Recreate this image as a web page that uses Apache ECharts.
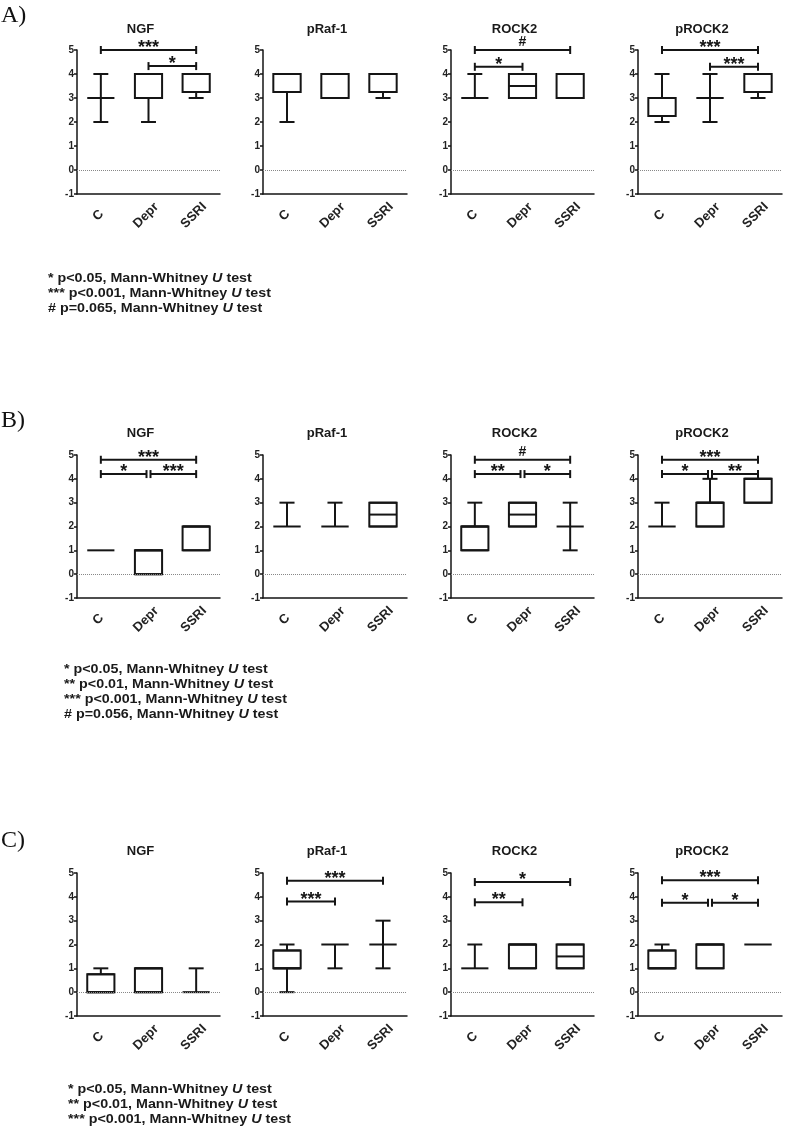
<!DOCTYPE html>
<html><head><meta charset="utf-8">
<script src="https://cdn.jsdelivr.net/npm/echarts@6/dist/echarts.min.js"></script>
<style>html,body{margin:0;padding:0;background:#fff}#c{width:789px;height:1148px}</style>
</head><body><div id="c"></div>
<script>
// ---------- data ----------
const groups = ['C', 'Depr', 'SSRI'];
const markers = ['NGF', 'pRaf-1', 'ROCK2', 'pROCK2'];
const rowLabels = ['A)', 'B)', 'C)'];
const yMin = -1, yMax = 5, yStep = 1;

// box values per group: [min, q1, median, q3, max] for C, Depr, SSRI
const A_NGF    = [[2, 3, 3, 3, 4], [2, 3, 4, 4, 4], [3, 3.25, 4, 4, 4]];
const A_pRaf1  = [[2, 3.25, 4, 4, 4], [3, 3, 4, 4, 4], [3, 3.25, 4, 4, 4]];
const A_ROCK2  = [[3, 3, 3, 3, 4], [3, 3, 3.5, 4, 4], [3, 3, 4, 4, 4]];
const A_pROCK2 = [[2, 2.25, 3, 3, 4], [2, 3, 3, 3, 4], [3, 3.25, 4, 4, 4]];
const B_NGF    = [[1, 1, 1, 1, 1], [0, 0, 1, 1, 1], [1, 1, 2, 2, 2]];
const B_pRaf1  = [[2, 2, 2, 2, 3], [2, 2, 2, 2, 3], [2, 2, 2.5, 3, 3]];
const B_ROCK2  = [[1, 1, 2, 2, 3], [2, 2, 2.5, 3, 3], [1, 2, 2, 2, 3]];
const B_pROCK2 = [[2, 2, 2, 2, 3], [2, 2, 3, 3, 4], [3, 3, 4, 4, 4]];
const C_NGF    = [[0, 0, 0, 0.75, 1], [0, 0, 1, 1, 1], [0, 0, 0, 0, 1]];
const C_pRaf1  = [[0, 1, 1, 1.75, 2], [1, 2, 2, 2, 2], [1, 2, 2, 2, 3]];
const C_ROCK2  = [[1, 1, 1, 1, 2], [1, 1, 2, 2, 2], [1, 1, 1.5, 2, 2]];
const C_pROCK2 = [[1, 1, 1, 1.75, 2], [1, 1, 2, 2, 2], [2, 2, 2, 2, 2]];

// significance brackets: [from, to, height, label]
const A_NGF_sig    = [['C', 'SSRI', 5, '***'], ['Depr', 'SSRI', 4.33, '*']];
const A_pRaf1_sig  = [];
const A_ROCK2_sig  = [['C', 'SSRI', 5, '#'], ['C', 'Depr', 4.3, '*']];
const A_pROCK2_sig = [['C', 'SSRI', 5, '***'], ['Depr', 'SSRI', 4.3, '***']];
const B_NGF_sig    = [['C', 'SSRI', 4.8, '***'], ['C', 'Depr', 4.2, '*'], ['Depr', 'SSRI', 4.2, '***']];
const B_pRaf1_sig  = [];
const B_ROCK2_sig  = [['C', 'SSRI', 4.8, '#'], ['C', 'Depr', 4.2, '**'], ['Depr', 'SSRI', 4.2, '*']];
const B_pROCK2_sig = [['C', 'SSRI', 4.8, '***'], ['C', 'Depr', 4.2, '*'], ['Depr', 'SSRI', 4.2, '**']];
const C_NGF_sig    = [];
const C_pRaf1_sig  = [['C', 'SSRI', 4.67, '***'], ['C', 'Depr', 3.8, '***']];
const C_ROCK2_sig  = [['C', 'SSRI', 4.62, '*'], ['C', 'Depr', 3.77, '**']];
const C_pROCK2_sig = [['C', 'SSRI', 4.7, '***'], ['C', 'Depr', 3.75, '*'], ['Depr', 'SSRI', 3.75, '*']];

const notesA = ['* p<0.05', '*** p<0.001', '# p=0.065'];
const notesB = ['* p<0.05', '** p<0.01', '*** p<0.001', '# p=0.056'];
const notesC = ['* p<0.05', '** p<0.01', '*** p<0.001'];
const testName = 'Mann-Whitney';

// ---------- layout ----------
const rowsBox = [[A_NGF, A_pRaf1, A_ROCK2, A_pROCK2], [B_NGF, B_pRaf1, B_ROCK2, B_pROCK2], [C_NGF, C_pRaf1, C_ROCK2, C_pROCK2]];
const rowsSig = [[A_NGF_sig, A_pRaf1_sig, A_ROCK2_sig, A_pROCK2_sig], [B_NGF_sig, B_pRaf1_sig, B_ROCK2_sig, B_pROCK2_sig], [C_NGF_sig, C_pRaf1_sig, C_ROCK2_sig, C_pROCK2_sig]];
const rowsNotes = [notesA, notesB, notesC];
const gridTop = [50, 455, 873];
const gridH = [144, 143, 143];
const colLeft = [77, 263, 451, 638];
const colW = [143, 144, 143, 144];
const titleY = [29, 433, 851];
const rowLabelY = [17, 422, 842];
const noteX = [48, 64, 68];
const noteY0 = [278, 669, 1089];
const INK = '#151515';
const FONT = 'Arial, "Liberation Sans", Helvetica, sans-serif';

const grids = [], xAxes = [], yAxes = [], series = [], graphics = [];

function boxRender(params, api) {
  const i = api.value(0);
  const v = [api.value(1), api.value(2), api.value(3), api.value(4), api.value(5)];
  const band = api.size([1, 0])[0];
  const bw = band * 0.57, cw = bw * 0.55;
  const p = v.map(val => api.coord([i, val]));
  const cx = p[0][0];
  const y = p.map(q => q[1]);
  const st = { stroke: INK, lineWidth: 2, fill: null };
  const ch = [];
  if (v[3] > v[1]) {
    ch.push({ type: 'rect', shape: { x: cx - bw / 2, y: y[3], width: bw, height: y[1] - y[3] }, style: { fill: '#fff', stroke: INK, lineWidth: 2 } });
  }
  ch.push({ type: 'line', shape: { x1: cx - bw / 2, y1: y[2], x2: cx + bw / 2, y2: y[2] }, style: st });
  if (v[3] > v[1]) {
    ch.push({ type: 'line', shape: { x1: cx - bw / 2, y1: y[1], x2: cx + bw / 2, y2: y[1] }, style: st });
    ch.push({ type: 'line', shape: { x1: cx - bw / 2, y1: y[3], x2: cx + bw / 2, y2: y[3] }, style: st });
  }
  if (v[4] > v[3]) {
    ch.push({ type: 'line', shape: { x1: cx, y1: y[3], x2: cx, y2: y[4] }, style: st });
    ch.push({ type: 'line', shape: { x1: cx - cw / 2, y1: y[4], x2: cx + cw / 2, y2: y[4] }, style: st });
  }
  if (v[0] < v[1]) {
    ch.push({ type: 'line', shape: { x1: cx, y1: y[1], x2: cx, y2: y[0] }, style: st });
    ch.push({ type: 'line', shape: { x1: cx - cw / 2, y1: y[0], x2: cx + cw / 2, y2: y[0] }, style: st });
  }
  return { type: 'group', children: ch };
}

function makeSigRender(sig) {
  return function (params, api) {
    const s = sig[params.dataIndex];
    const i1 = groups.indexOf(s[0]), i2 = groups.indexOf(s[1]);
    const a = api.coord([i1, s[2]]), b = api.coord([i2, s[2]]);
    let x1 = a[0], x2 = b[0];
    const yy = a[1];
    // separate touching brackets at the same height
    sig.forEach((o, k) => {
      if (k === params.dataIndex || o[2] !== s[2]) return;
      if (o[1] === s[0]) x1 += 2;
      if (o[0] === s[1]) x2 -= 2;
    });
    const st = { stroke: INK, lineWidth: 2 };
    const onlyStars = /^\*+$/.test(s[3]);
    return {
      type: 'group', children: [
        { type: 'line', shape: { x1: x1, y1: yy, x2: x2, y2: yy }, style: st },
        { type: 'line', shape: { x1: x1, y1: yy - 4, x2: x1, y2: yy + 4 }, style: st },
        { type: 'line', shape: { x1: x2, y1: yy - 4, x2: x2, y2: yy + 4 }, style: st },
        { type: 'text', x: (x1 + x2) / 2, y: yy - (onlyStars ? 2 : 8),
          style: { text: s[3], textAlign: 'center', textVerticalAlign: 'middle', font: (onlyStars ? 'bold 18px ' : 'bold 14px ') + FONT, fill: INK } }
      ]
    };
  };
}

for (let r = 0; r < 3; r++) {
  graphics.push({ type: 'text', left: 1, top: rowLabelY[r] - 13, style: { text: rowLabels[r], font: '24px "Liberation Serif", "Times New Roman", serif', fill: '#111' } });
  for (let c = 0; c < 4; c++) {
    const gi = r * 4 + c;
    grids.push({ left: colLeft[c], top: gridTop[r], width: colW[c], height: gridH[r] });
    xAxes.push({
      type: 'category', gridIndex: gi, data: groups, boundaryGap: true,
      axisLine: { onZero: false, lineStyle: { color: INK, width: 1.5 } },
      axisTick: { alignWithLabel: true, length: 4, lineStyle: { color: INK, width: 1.5 } },
      axisLabel: { rotate: 45, fontWeight: 'bold', fontSize: 13, fontFamily: FONT, color: '#222', margin: 19,
        align: 'center', verticalAlign: 'middle', padding: [0, 7, 7, 0] }
    });
    yAxes.push({
      type: 'value', gridIndex: gi, min: yMin, max: yMax, interval: yStep,
      axisLine: { show: true, lineStyle: { color: INK, width: 1.5 } },
      axisTick: { show: true, length: 3, lineStyle: { color: INK, width: 1.5 } },
      axisLabel: { fontWeight: 'bold', fontSize: 10, fontFamily: FONT, color: '#222', margin: 3 },
      splitLine: { show: false }
    });
    const box = rowsBox[r][c];
    series.push({
      type: 'custom', xAxisIndex: gi, yAxisIndex: gi, renderItem: boxRender, silent: true,
      encode: { x: 0, y: [1, 2, 3, 4, 5] },
      data: box.map((b, k) => [k].concat(b)),
      markLine: { silent: true, symbol: 'none', label: { show: false },
        lineStyle: { type: 'dotted', color: '#888', width: 1 }, data: [{ yAxis: 0 }] },
      z: 3
    });
    const sig = rowsSig[r][c];
    if (sig.length) {
      series.push({
        type: 'custom', xAxisIndex: gi, yAxisIndex: gi, renderItem: makeSigRender(sig), silent: true,
        encode: { x: 0, y: 2 },
        data: sig.map(s => [groups.indexOf(s[0]), groups.indexOf(s[1]), s[2]]),
        z: 4
      });
    }
    graphics.push({ type: 'text', x: colLeft[c] + colW[c] / 2 - 8, y: titleY[r],
      style: { text: markers[c], font: 'bold 13px ' + FONT, fill: '#1a1a1a', textAlign: 'center', textVerticalAlign: 'middle' } });
  }
  rowsNotes[r].forEach((n, k) => {
    graphics.push({ type: 'text', x: noteX[r], y: noteY0[r] + k * 15, scaleX: 1.1,
      style: { text: n + ', ' + testName + ' {u|U} test', font: 'bold 13px ' + FONT, fill: '#1a1a1a', textVerticalAlign: 'middle',
        rich: { u: { fontStyle: 'italic', fontWeight: 'bold', fontSize: 13, fontFamily: FONT, fill: '#1a1a1a' } } } });
  });
}

const chart = echarts.init(document.getElementById('c'), null, { renderer: 'canvas' });
chart.setOption({ animation: false, backgroundColor: '#fff', grid: grids, xAxis: xAxes, yAxis: yAxes, series: series, graphic: graphics });
</script></body></html>
